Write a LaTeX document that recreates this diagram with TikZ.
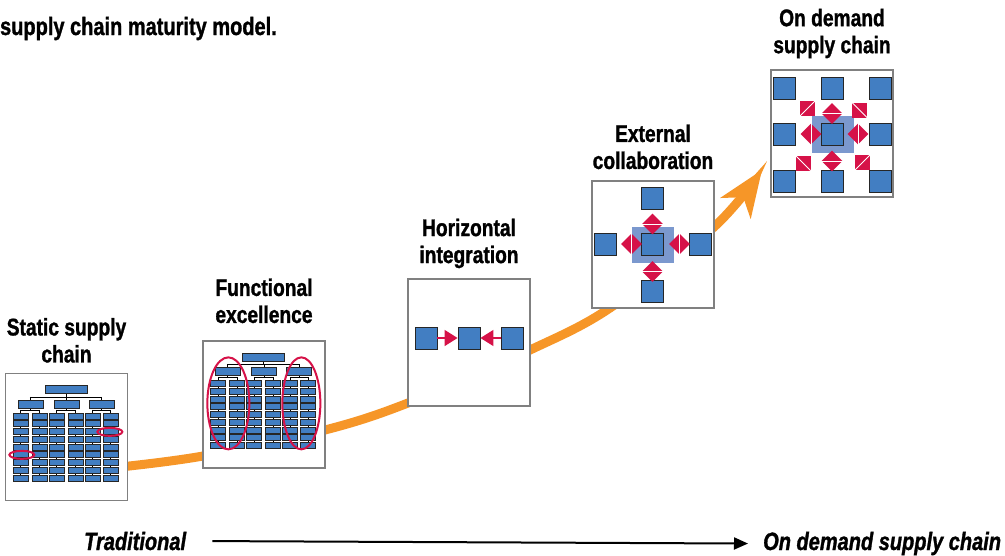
\documentclass[tikz,border=0pt]{standalone}
\usepackage{fontspec}
\setmainfont{Liberation Sans}[FakeStretch=0.8, BoldFeatures={FakeBold=1.2}, BoldItalicFeatures={FakeBold=1.2}]
\usetikzlibrary{arrows.meta,positioning,shapes.geometric}

\definecolor{chainblue}{RGB}{66,126,194}
\definecolor{hilite}{RGB}{123,152,206}
\definecolor{linkred}{RGB}{214,18,72}
\definecolor{trendorange}{RGB}{246,150,40}

\tikzset{
  panel/.style={draw=black!50, line width=1.3pt, fill=white, minimum width=122pt, minimum height=127pt, inner sep=0pt},
  stage/.style={font=\fontsize{24}{27}\selectfont\bfseries, align=center, inner sep=0pt},
  unit/.style={draw=black!85, fill=chainblue, line width=0.9pt, minimum size=22pt, inner sep=0pt},
  cell/.style={draw=black!85, fill=chainblue, line width=0.7pt},
  wire/.style={black, line width=0.6pt},
  ring/.style={draw=linkred, line width=2pt},
  link/.style={linkred, line width=1.5pt, -{Triangle[width=16pt,length=13pt]}},
  twohead/.style={diamond, fill=linkred, minimum width=21pt, minimum height=21pt, inner sep=0pt},
  corner/.style={fill=linkred, minimum size=15pt, inner sep=0pt},
  cut/.style={white, line width=0.9pt},
  trend/.style={trendorange, line width=9pt, -{Stealth[length=46pt,width=36pt,inset=13pt]}},
  timeline/.style={black, line width=2pt, -{Triangle[width=12pt,length=14pt]}},
}

% little org chart used in the first two panels
\newcommand{\orgchart}{%
  \draw[wire] (61,20.5) -- (61,24) (25,24) -- (96.5,24)
    (25,24) -- (25,27) (61.5,24) -- (61.5,27) (96.5,24) -- (96.5,27);
  \foreach \mx/\ca/\cb in {25/15.5/34.5, 61.5/51.5/70.5, 96.5/87.5/105.5}
    \draw[wire] (\mx,35) -- (\mx,37) (\ca,37) -- (\cb,37) (\ca,37) -- (\ca,108) (\cb,37) -- (\cb,108);
  \draw[cell] (40,12.5) rectangle (82,20.5);
  \foreach \mx in {13,49,84} \draw[cell] (\mx,27) rectangle ++(25,8);
  \foreach \cx in {8,27,44,63,80,98}
    \foreach \r in {0,...,8}
      \draw[cell] (\cx,{40+7.75*\r}) rectangle ++(15,6);
}

\begin{document}
\begin{tikzpicture}[x=1pt,y=-1pt,node distance=20pt]
  \useasboundingbox (0,0) rectangle (1005,555);

  \node[font=\fontsize{25}{30}\selectfont\bfseries, inner sep=0pt, anchor=base east] (caption) at (277,35) {supply chain maturity model.};

  % growth curve behind the panels
  \coordinate (rise) at (120,467);
  \coordinate (peak) at (762,170);
  \draw[trend] plot[smooth, tension=0.55] coordinates {(rise) (203,456) (325,430) (408,403) (530,350) (610,308) (714,227) (peak)};

  % panels
  \node[panel] (static)     at (66.5,437)   {};
  \node[panel] (functional) at (264,404.5)  {};
  \node[panel] (horizontal) at (469,342.5)  {};
  \node[panel] (external)   at (653,244.5)  {};
  \node[panel] (ondemand)   at (832,133.5)  {};

  \node[stage, anchor=south] (staticlbl)     [above=10pt of static]     {Static supply\\chain};
  \node[stage, anchor=south] (functionallbl) [above=17pt of functional] {Functional\\excellence};
  \node[stage, anchor=south] (horizontallbl) [above=10pt of horizontal] {Horizontal\\integration};
  \node[stage, anchor=south] (externallbl)   [above=11pt of external]   {External\\collaboration};
  \node[stage, anchor=south] (ondemandlbl)   [above=11pt of ondemand]   {On demand\\supply chain};

  % static supply chain
  \begin{scope}[shift={(static.north west)}]
    \orgchart
    \draw[ring] (17,82) ellipse (12.5 and 4);
    \draw[ring] (105,59) ellipse (12.5 and 4);
  \end{scope}

  % functional excellence
  \begin{scope}[shift={(functional.north west)}]
    \orgchart
    \draw[ring] (26,63) ellipse (21 and 46);
    \draw[ring] (99,63) ellipse (19 and 46);
  \end{scope}

  % horizontal integration
  \node[unit] (h2) at (469,338) {};
  \node[unit] (h1) [on grid, left=43pt of h2] {};
  \node[unit] (h3) [on grid, right=43pt of h2] {};
  \draw[link] (h1) -- (h2);
  \draw[link] (h3) -- (h2);

  % external collaboration
  \coordinate (hub4) at (652.5,244);
  \fill[hilite] ([shift={(-20.5,-17)}]hub4) rectangle ([shift={(21.5,19)}]hub4);
  \node[unit] (c4) at (hub4) {};
  \node[unit] (c4t) [on grid, above=46pt of c4] {};
  \node[unit] (c4b) [on grid, below=47pt of c4] {};
  \node[unit] (c4l) [on grid, left=47pt of c4] {};
  \node[unit] (c4r) [on grid, right=48pt of c4] {};
  \node[twohead] (d4t) [on grid, above=20pt of c4] {};
  \node[twohead] (d4b) [on grid, below=27.5pt of c4] {};
  \node[twohead] (d4l) [on grid, left=21pt of c4] {};
  \node[twohead] (d4r) [on grid, right=27pt of c4] {};
  \draw[cut] (d4t.west) -- (d4t.east) (d4b.west) -- (d4b.east)
             (d4l.north) -- (d4l.south) (d4r.north) -- (d4r.south);

  % on demand supply chain
  \coordinate (hub5) at (832,134);
  \fill[hilite] ([shift={(-20,-18)}]hub5) rectangle ([shift={(22,19)}]hub5);
  \node[unit] (c5) at (hub5) {};
  \node[unit] (c5t) [on grid, above=46pt of c5] {};
  \node[unit] (c5b) [on grid, below=47pt of c5] {};
  \node[unit] (c5l) [on grid, left=47.5pt of c5] {};
  \node[unit] (c5r) [on grid, right=48pt of c5] {};
  \node[unit] (c5tl) [on grid, left=47.5pt of c5t] {};
  \node[unit] (c5tr) [on grid, right=48pt of c5t] {};
  \node[unit] (c5bl) [on grid, left=47.5pt of c5b] {};
  \node[unit] (c5br) [on grid, right=48pt of c5b] {};
  \node[twohead] (d5t) [on grid, above=20.5pt of c5] {};
  \node[twohead] (d5b) [on grid, below=27pt of c5] {};
  \node[twohead] (d5l) [on grid, left=21pt of c5] {};
  \node[twohead] (d5r) [on grid, right=26pt of c5] {};
  \draw[cut] (d5t.west) -- (d5t.east) (d5b.west) -- (d5b.east)
             (d5l.north) -- (d5l.south) (d5r.north) -- (d5r.south);
  \node[corner] (k5tl) at (807.5,108.5) {};
  \node[corner] (k5tr) at (859.5,110) {};
  \node[corner] (k5bl) at (803,163) {};
  \node[corner] (k5br) at (862.5,162.5) {};
  \draw[cut] (k5tl.south west) -- (k5tl.north east) (k5br.south west) -- (k5br.north east)
             (k5tr.north west) -- (k5tr.south east) (k5bl.north west) -- (k5bl.south east);

  % bottom scale
  \node[font=\fontsize{25}{30}\selectfont\bfseries\itshape, inner sep=0pt, anchor=base west] (trad) at (84,550) {Traditional};
  \node[font=\fontsize{25}{30}\selectfont\bfseries\itshape, inner sep=0pt, anchor=base west] (ondem) at (763,550) {On demand supply chain};
  \draw[timeline] ([xshift=26pt]trad.east) -- ([xshift=-15pt]ondem.west);
\end{tikzpicture}
\end{document}
